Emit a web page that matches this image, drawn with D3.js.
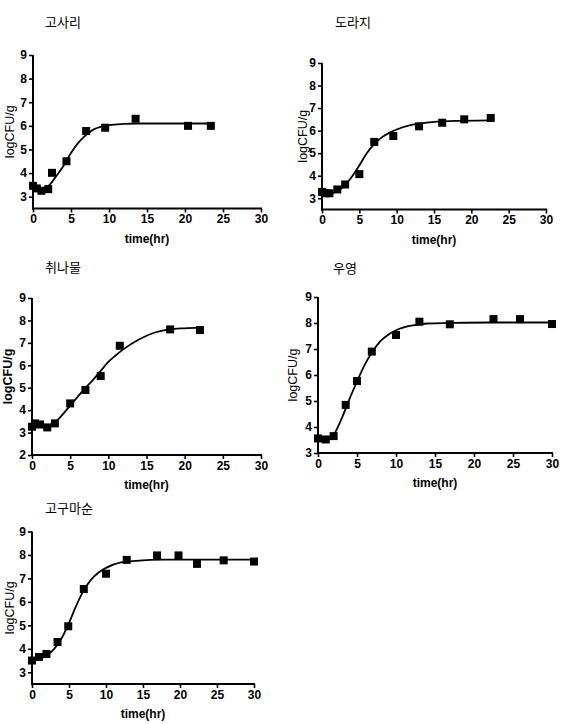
<!DOCTYPE html>
<html><head><meta charset="utf-8">
<script src="https://cdn.jsdelivr.net/npm/d3@7"></script>
<style>
body{margin:0;background:#fff;}
svg{display:block;}
.tick text{font-family:"Liberation Sans",Arial,sans-serif;font-weight:bold;font-size:12px;fill:#000;}
</style></head>
<body>
<svg id="chart" width="566" height="724"></svg>
<script>
// ---- data ----
const titles = ["고사리", "도라지", "취나물", "우영", "고구마순"];
const xTicks = [0, 5, 10, 15, 20, 25, 30];
const yTicksA = [3, 4, 5, 6, 7, 8, 9];
const yTicksB = [2, 3, 4, 5, 6, 7, 8, 9];

const gosariTime  = [0, 0.5, 1.1, 2.0, 2.5, 4.4, 7.0, 9.5, 13.5, 20.4, 23.4];
const gosariLog   = [3.46, 3.35, 3.25, 3.32, 4.01, 4.5, 5.78, 5.92, 6.3, 6.0, 6.0];
const gosariFitT  = [0, 1, 2, 3, 4, 5, 6, 7, 8, 9, 10, 12, 14, 18, 23.5];
const gosariFitY  = [3.45, 3.35, 3.45, 3.85, 4.3, 4.85, 5.3, 5.62, 5.85, 5.97, 6.03, 6.08, 6.1, 6.1, 6.1];

const dorajiTime  = [0, 0.5, 1.0, 2.05, 3.1, 5.0, 7.0, 9.55, 13.0, 16.1, 19.05, 22.6];
const dorajiLog   = [3.28, 3.22, 3.22, 3.39, 3.61, 4.07, 5.5, 5.76, 6.19, 6.35, 6.5, 6.56];
const dorajiFitT  = [0, 1, 2, 3, 4, 5, 6, 7, 8, 9, 10, 12, 14, 17, 22.5];
const dorajiFitY  = [3.25, 3.22, 3.3, 3.55, 3.95, 4.45, 5.0, 5.4, 5.7, 5.9, 6.05, 6.25, 6.35, 6.42, 6.45];

const chwinamulTime = [0, 0.4, 1.05, 2.0, 3.0, 5.0, 7.0, 9.0, 11.5, 18.1, 22.0];
const chwinamulLog  = [3.26, 3.41, 3.36, 3.23, 3.41, 4.3, 4.9, 5.52, 6.87, 7.6, 7.57];
const chwinamulFitT = [0, 1, 2, 3, 4, 5, 6, 7, 8, 9, 10, 11, 12, 14, 16, 18, 20, 22];
const chwinamulFitY = [3.3, 3.38, 3.32, 3.45, 3.8, 4.2, 4.6, 5.0, 5.35, 5.75, 6.15, 6.45, 6.72, 7.15, 7.45, 7.6, 7.65, 7.68];

const uyeongTime  = [0, 1.0, 2.0, 3.55, 5.0, 6.9, 10.0, 13.0, 16.9, 22.5, 25.9, 30];
const uyeongLog   = [3.56, 3.52, 3.65, 4.85, 5.77, 6.9, 7.54, 8.05, 7.95, 8.15, 8.15, 7.96];
const uyeongFitT  = [0, 1, 2, 3, 4, 5, 6, 7, 8, 9, 10, 12, 14, 17, 22, 30];
const uyeongFitY  = [3.56, 3.52, 3.7, 4.3, 5.05, 5.75, 6.4, 6.9, 7.3, 7.55, 7.72, 7.9, 7.98, 8.0, 8.02, 8.02];

const gogumaTime  = [0, 0.95, 1.95, 3.45, 4.9, 7.0, 10.0, 12.8, 16.9, 19.8, 22.3, 25.9, 30];
const gogumaLog   = [3.5, 3.65, 3.78, 4.29, 4.96, 6.55, 7.2, 7.79, 7.98, 7.98, 7.62, 7.77, 7.72];
const gogumaFitT  = [0, 1, 2, 3, 4, 5, 6, 7, 8, 9, 10, 12, 14, 18, 30];
const gogumaFitY  = [3.5, 3.58, 3.72, 4.0, 4.45, 5.1, 5.85, 6.5, 6.95, 7.25, 7.45, 7.68, 7.75, 7.8, 7.8];

const xLabel = "time(hr)";
const yLabel = "logCFU/g";

// ---- layout (pixels) ----
const panels = [
  {title: titles[0], t: gosariTime, v: gosariLog, ft: gosariFitT, fv: gosariFitY, yTicks: yTicksA,
   yDom: [2.5, 9], x0: 33, x1: 261, yTop: 55, yBot: 208.5, titleX: 45, titleY: 27, ylabX: 14, ylabBold: false},
  {title: titles[1], t: dorajiTime, v: dorajiLog, ft: dorajiFitT, fv: dorajiFitY, yTicks: yTicksA,
   yDom: [2.5, 9], x0: 322, x1: 546, yTop: 63, yBot: 209.5, titleX: 335, titleY: 27, ylabX: 307, ylabBold: false},
  {title: titles[2], t: chwinamulTime, v: chwinamulLog, ft: chwinamulFitT, fv: chwinamulFitY, yTicks: yTicksB,
   yDom: [2, 9], x0: 32, x1: 261, yTop: 298, yBot: 455, titleX: 45, titleY: 272, ylabX: 12, ylabBold: true},
  {title: titles[3], t: uyeongTime, v: uyeongLog, ft: uyeongFitT, fv: uyeongFitY, yTicks: yTicksA,
   yDom: [3, 9], x0: 318, x1: 552, yTop: 297, yBot: 453, titleX: 333, titleY: 273, ylabX: 297, ylabBold: false},
  {title: titles[4], t: gogumaTime, v: gogumaLog, ft: gogumaFitT, fv: gogumaFitY, yTicks: yTicksA,
   yDom: [2.5, 9], x0: 32, x1: 254, yTop: 531.5, yBot: 684, titleX: 45, titleY: 513, ylabX: 14, ylabBold: false}
];

const svg = d3.select("#chart");
const font = '"Liberation Sans", Arial, sans-serif';

panels.forEach(p => {
  const x = d3.scaleLinear().domain([0, 30]).range([p.x0, p.x1]);
  const y = d3.scaleLinear().domain([p.yDom[0], 9]).range([p.yBot, p.yTop]);
  const g = svg.append("g");

  // title
  g.append("text").attr("x", p.titleX).attr("y", p.titleY)
    .attr("font-family", '"Noto Sans CJK KR", sans-serif').attr("font-size", 13)
    .attr("fill", "#000").text(p.title);

  // axes
  const xa = g.append("g").attr("transform", `translate(0,${p.yBot})`)
    .call(d3.axisBottom(x).tickValues(xTicks).tickFormat(d3.format("d"))
      .tickSize(4).tickPadding(2).tickSizeOuter(0));
  const ya = g.append("g").attr("transform", `translate(${p.x0},0)`)
    .call(d3.axisLeft(y).tickValues(p.yTicks).tickFormat(d3.format("d"))
      .tickSize(4).tickPadding(2).tickSizeOuter(0));
  [xa, ya].forEach(a => {
    a.select(".domain").attr("stroke", "#000").attr("stroke-width", 2);
    a.selectAll(".tick line").attr("stroke", "#000").attr("stroke-width", 1.6);
  });
  xa.select(".domain").attr("d", `M${p.x0 - 1},0H${p.x1 + 1}`);
  ya.select(".domain").attr("d", `M0,${p.yBot + 1}V${p.yTop}`);

  // axis labels
  g.append("text").attr("x", (p.x0 + p.x1) / 2).attr("y", p.yBot + 34)
    .attr("text-anchor", "middle").attr("font-family", font).attr("font-weight", "bold")
    .attr("font-size", 12).attr("fill", "#000").text(xLabel);
  g.append("text")
    .attr("transform", `translate(${p.ylabX},${(p.yTop + p.yBot) / 2}) rotate(-90)`)
    .attr("text-anchor", "middle").attr("font-family", font)
    .attr("font-weight", p.ylabBold ? "bold" : "normal")
    .attr("font-size", 12.5).attr("fill", "#000").text(yLabel);

  // fitted curve
  const fit = p.ft.map((t, i) => [t, p.fv[i]]);
  g.append("path").datum(fit)
    .attr("d", d3.line().x(d => x(d[0])).y(d => y(d[1])).curve(d3.curveMonotoneX))
    .attr("fill", "none").attr("stroke", "#000").attr("stroke-width", 1.8);

  // points
  const pts = p.t.map((t, i) => [t, p.v[i]]);
  const s = 8;
  g.selectAll("rect.pt").data(pts).enter().append("rect")
    .attr("class", "pt")
    .attr("x", d => x(d[0]) - s / 2).attr("y", d => y(d[1]) - s / 2)
    .attr("width", s).attr("height", s).attr("fill", "#000");
});
</script>
</body></html>
